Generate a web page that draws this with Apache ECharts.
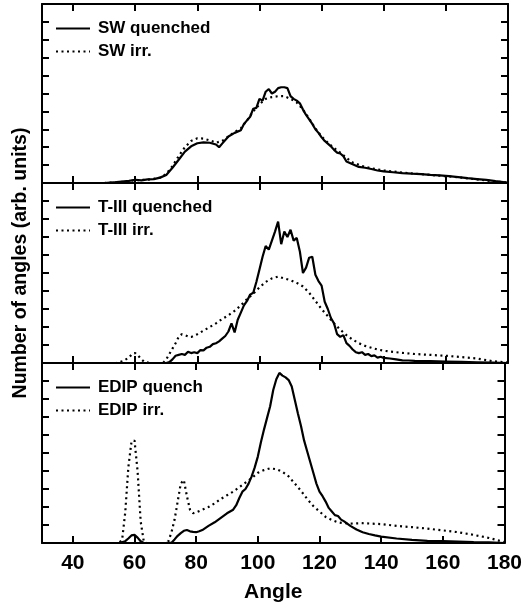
<!DOCTYPE html>
<html>
<head>
<meta charset="utf-8">
<script src="https://cdn.jsdelivr.net/npm/echarts@6/dist/echarts.min.js"></script>
<style>html,body{margin:0;padding:0;background:#fff}#c{width:525px;height:608px}</style>
</head>
<body>
<div id="c"></div>
<script>
// ---- data: [angle, value] ----
const xTicks = [40, 60, 80, 100, 120, 140, 160, 180];

const swQuenched = [[50,0],[54,0.05],[58,0.12],[60,0.18],[62,0.15],[64,0.2],[66,0.22],[68,0.3],[70,0.45],[72,0.85],
[74,1.3],[76,1.75],[78,2.05],[80,2.22],[82,2.27],[84,2.25],[86,2.15],[87,2.0],[88,2.2],[90,2.6],
[92,2.8],[94,2.95],[95,3.3],[96,3.5],[97,3.7],[98,4.15],[99,4.2],[100,4.7],[101,4.6],[102,5.1],
[103,5.25],[104,5.0],[105,5.1],[106,5.3],[107,5.35],[108,5.35],[109,5.3],[110,4.85],[111,4.7],[112,4.6],
[113,4.45],[114,4.1],[115,3.8],[116,3.55],[117,3.3],[118,3.0],[119,2.8],[120,2.55],[121,2.35],[122,2.2],
[123,2.05],[124,1.85],[125,1.7],[126,1.65],[127,1.5],[128,1.2],[130,1.05],[132,0.9],[134,0.85],[136,0.78],
[138,0.7],[140,0.65],[143,0.6],[146,0.55],[149,0.52],[152,0.5],[155,0.45],[158,0.43],[161,0.38],[164,0.33],
[167,0.27],[170,0.22],[173,0.17],[176,0.1],[179,0.04],[180,0.02]];

const swIrr = [[50,0],[55,0.05],[60,0.15],[65,0.2],[68,0.3],[70,0.5],[72,0.95],[74,1.5],[76,2.0],[78,2.35],
[80,2.5],[82,2.48],[84,2.38],[86,2.25],[88,2.35],[90,2.6],[92,2.85],[94,3.05],[96,3.5],[98,4.0],
[100,4.4],[102,4.7],[104,4.8],[106,4.85],[108,4.85],[110,4.7],[112,4.5],[114,4.1],[116,3.6],[118,3.05],
[120,2.6],[122,2.25],[124,1.95],[126,1.7],[128,1.4],[130,1.15],[133,0.95],[136,0.82],[140,0.7],[145,0.6],
[150,0.52],[155,0.45],[160,0.38],[165,0.3],[170,0.2],[175,0.1],[180,0.02]];

const t3Quenched = [[50,0],[70,0],[71,0.05],[72,0.2],[73,0.4],[74,0.45],[75,0.5],[76,0.45],[77,0.62],[78,0.55],
[79,0.6],[80,0.55],[81,0.72],[82,0.7],[83,0.85],[84,0.9],[85,1.05],[86,1.1],[87,1.2],[88,1.35],
[89,1.5],[90,1.75],[91,2.2],[92,1.7],[93,2.4],[94,2.8],[95,3.2],[96,3.45],[97,3.8],[98,3.9],
[99,4.5],[100,5.2],[101,5.9],[102,6.5],[103,6.3],[104,6.8],[105,7.3],[106,7.85],[107,6.6],[108,7.3],
[109,7.0],[110,7.4],[111,6.8],[112,6.95],[113,6.2],[114,5.0],[115,5.3],[116,5.85],[117,5.9],[118,4.9],
[119,4.55],[120,4.3],[121,3.4],[122,3.0],[123,2.5],[124,2.2],[125,1.6],[126,1.45],[127,1.55],[128,1.1],
[129,0.95],[130,0.75],[131,0.6],[132,0.55],[133,0.6],[134,0.45],[135,0.5],[136,0.38],[137,0.42],[138,0.3],
[139,0.35],[140,0.28],[142,0.25],[144,0.2],[146,0.15],[148,0.14],[150,0.12],[155,0.1],[160,0.08],[165,0.06],
[170,0.04],[175,0.02],[180,0]];

const t3Irr = [[50,0],[54,0],[56,0.1],[58,0.3],[59,0.5],[60,0.55],[61,0.4],[62,0.2],[63,0.05],[65,0],
[69,0],[70,0.2],[71,0.5],[72,0.8],[73,1.1],[74,1.45],[75,1.6],[76,1.55],[77,1.48],[78,1.45],
[80,1.6],[82,1.8],[84,2.0],[86,2.2],[88,2.45],[90,2.65],[92,2.9],[94,3.2],[96,3.55],[98,3.85],
[100,4.2],[102,4.5],[104,4.7],[106,4.8],[108,4.7],[110,4.6],[112,4.45],[114,4.25],[116,3.9],[118,3.45],
[120,3.0],[122,2.6],[124,2.2],[126,1.85],[128,1.55],[130,1.3],[132,1.1],[134,0.95],[136,0.85],[138,0.75],
[140,0.68],[145,0.58],[150,0.5],[155,0.45],[160,0.4],[165,0.33],[170,0.25],[175,0.1],[180,0.02]];

const edipQuench = [[50,0],[55,0],[57,0.1],[58,0.25],[59,0.42],[60,0.45],[61,0.3],[62,0.1],[63,0],[70,0],
[72,0.02],[73,0.2],[74,0.4],[75,0.55],[76,0.68],[77,0.72],[78,0.65],[79,0.62],[80,0.6],[81,0.65],
[82,0.72],[84,0.95],[86,1.15],[88,1.4],[90,1.65],[92,1.85],[93,2.1],[94,2.5],[95,2.85],[96,3.0],
[97,3.3],[98,3.7],[99,4.2],[100,4.8],[101,5.6],[102,6.3],[103,6.95],[104,7.6],[105,8.5],[106,9.1],
[107,9.45],[108,9.3],[109,9.2],[110,9.05],[111,8.7],[112,7.95],[113,7.2],[114,6.5],[115,5.7],[116,5.1],
[117,4.5],[118,3.9],[119,3.3],[120,2.85],[121,2.6],[122,2.3],[123,1.95],[124,1.75],[125,1.55],[126,1.5],
[127,1.3],[128,1.2],[130,0.95],[132,0.75],[134,0.6],[136,0.5],[138,0.42],[140,0.35],[145,0.25],[150,0.17],
[155,0.12],[160,0.1],[165,0.08],[170,0.05],[175,0.03],[180,0]];

const edipIrr = [[50,0],[55,0],[56,0.2],[57,1.7],[58,4.2],[59,5.6],[60,5.7],[61,4.0],[62,1.2],[63,0.1],
[64,0],[70,0],[71,0.1],[72,0.6],[73,1.3],[74,2.3],[75,3.3],[76,3.5],[77,2.6],[78,1.85],
[79,1.65],[80,1.7],[82,1.85],[84,2.0],[86,2.2],[88,2.45],[90,2.65],[92,2.85],[94,3.1],[96,3.35],
[98,3.6],[100,3.9],[102,4.05],[104,4.15],[106,4.1],[108,3.95],[110,3.7],[112,3.3],[114,2.9],[116,2.45],
[118,2.05],[120,1.75],[122,1.45],[124,1.28],[126,1.15],[128,1.1],[130,1.08],[134,1.1],[140,1.05],[145,0.95],
[150,0.88],[155,0.8],[160,0.7],[165,0.6],[170,0.45],[175,0.28],[180,0.05]];

const panels = [
  { solid: 'SW quenched', dotted: 'SW irr.', solidData: swQuenched, dottedData: swIrr },
  { solid: 'T-III quenched', dotted: 'T-III irr.', solidData: t3Quenched, dottedData: t3Irr },
  { solid: 'EDIP quench', dotted: 'EDIP irr.', solidData: edipQuench, dottedData: edipIrr }
];

// ---- layout ----
const FONT = "'Liberation Sans', Arial, Helvetica, sans-serif";
const tops = [4, 183, 363];
const heights = [179, 180, 180];
const lineStyleAxis = { color: '#000', width: 2 };

const grids = [], xAxes = [], yAxes = [], series = [], legends = [];
panels.forEach((p, i) => {
  grids.push({ left: 42, right: 17, top: tops[i], height: heights[i] });
  xAxes.push({
    type: 'value', gridIndex: i, position: 'bottom', min: 30, max: 180,
    axisLine: { show: true, onZero: false, lineStyle: lineStyleAxis },
    axisTick: { show: true, inside: true, length: 7, lineStyle: { color: '#000', width: 2 }, customValues: xTicks },
    axisLabel: { show: i === 2, customValues: xTicks, margin: 10, color: '#000', fontFamily: FONT, fontWeight: 'bold', fontSize: 21 },
    splitLine: { show: false },
    name: i === 2 ? 'Angle' : '', nameLocation: 'middle', nameGap: 39,
    nameTextStyle: { color: '#000', fontFamily: FONT, fontWeight: 'bold', fontSize: 21 }
  });
  yAxes.push({
    type: 'value', gridIndex: i, position: 'left', min: 0, max: 10, interval: 1,
    axisLine: { show: true, onZero: false, lineStyle: lineStyleAxis },
    axisTick: { show: true, inside: true, length: 7, lineStyle: { color: '#000', width: 2 } },
    axisLabel: { show: false }, splitLine: { show: false }
  });
  series.push({
    name: p.solid, type: 'line', xAxisIndex: i, yAxisIndex: i, data: p.solidData,
    symbol: 'none', showSymbol: false, smooth: false, clip: true,
    lineStyle: { color: '#000', width: 2.2, type: 'solid' }, itemStyle: { color: '#000' }, z: 3
  });
  series.push({
    name: p.dotted, type: 'line', xAxisIndex: i, yAxisIndex: i, data: p.dottedData,
    symbol: 'none', showSymbol: false, smooth: false, clip: true,
    lineStyle: { color: '#000', width: 2.2, type: [2, 3.5] }, itemStyle: { color: '#000' }, z: 2
  });
  legends.push({
    data: [p.solid, p.dotted], orient: 'vertical', left: 55, top: tops[i] + 16,
    padding: 0, itemWidth: 34, itemHeight: 14, itemGap: 6, selectedMode: false,
    itemStyle: { opacity: 0, borderWidth: 0 },
    lineStyle: { width: 2 },
    textStyle: { color: '#000', fontFamily: FONT, fontWeight: 'bold', fontSize: 17, padding: [0, 0, 0, 3] }
  });
});
panels.forEach((p, i) => {
  xAxes.push({
    type: 'value', gridIndex: i, position: 'top', min: 30, max: 180,
    axisLine: { show: true, onZero: false, lineStyle: lineStyleAxis },
    axisTick: { show: true, inside: true, length: 7, lineStyle: { color: '#000', width: 2 }, customValues: xTicks },
    axisLabel: { show: false }, splitLine: { show: false }
  });
  yAxes.push({
    type: 'value', gridIndex: i, position: 'right', min: 0, max: 10, interval: 1,
    axisLine: { show: true, onZero: false, lineStyle: lineStyleAxis },
    axisTick: { show: true, inside: true, length: 7, lineStyle: { color: '#000', width: 2 } },
    axisLabel: { show: false }, splitLine: { show: false }
  });
});

const chart = echarts.init(document.getElementById('c'), null, { renderer: 'canvas' });
chart.setOption({
  animation: false,
  backgroundColor: '#fff',
  grid: grids,
  xAxis: xAxes,
  yAxis: yAxes,
  legend: legends,
  series: series,
  graphic: [{
    type: 'text', x: 21, y: 263, rotation: Math.PI / 2,
    style: {
      text: 'Number of angles (arb. units)', fill: '#000',
      font: 'bold 19.5px ' + FONT, textAlign: 'center', textVerticalAlign: 'middle'
    }
  }]
});
</script>
</body>
</html>
